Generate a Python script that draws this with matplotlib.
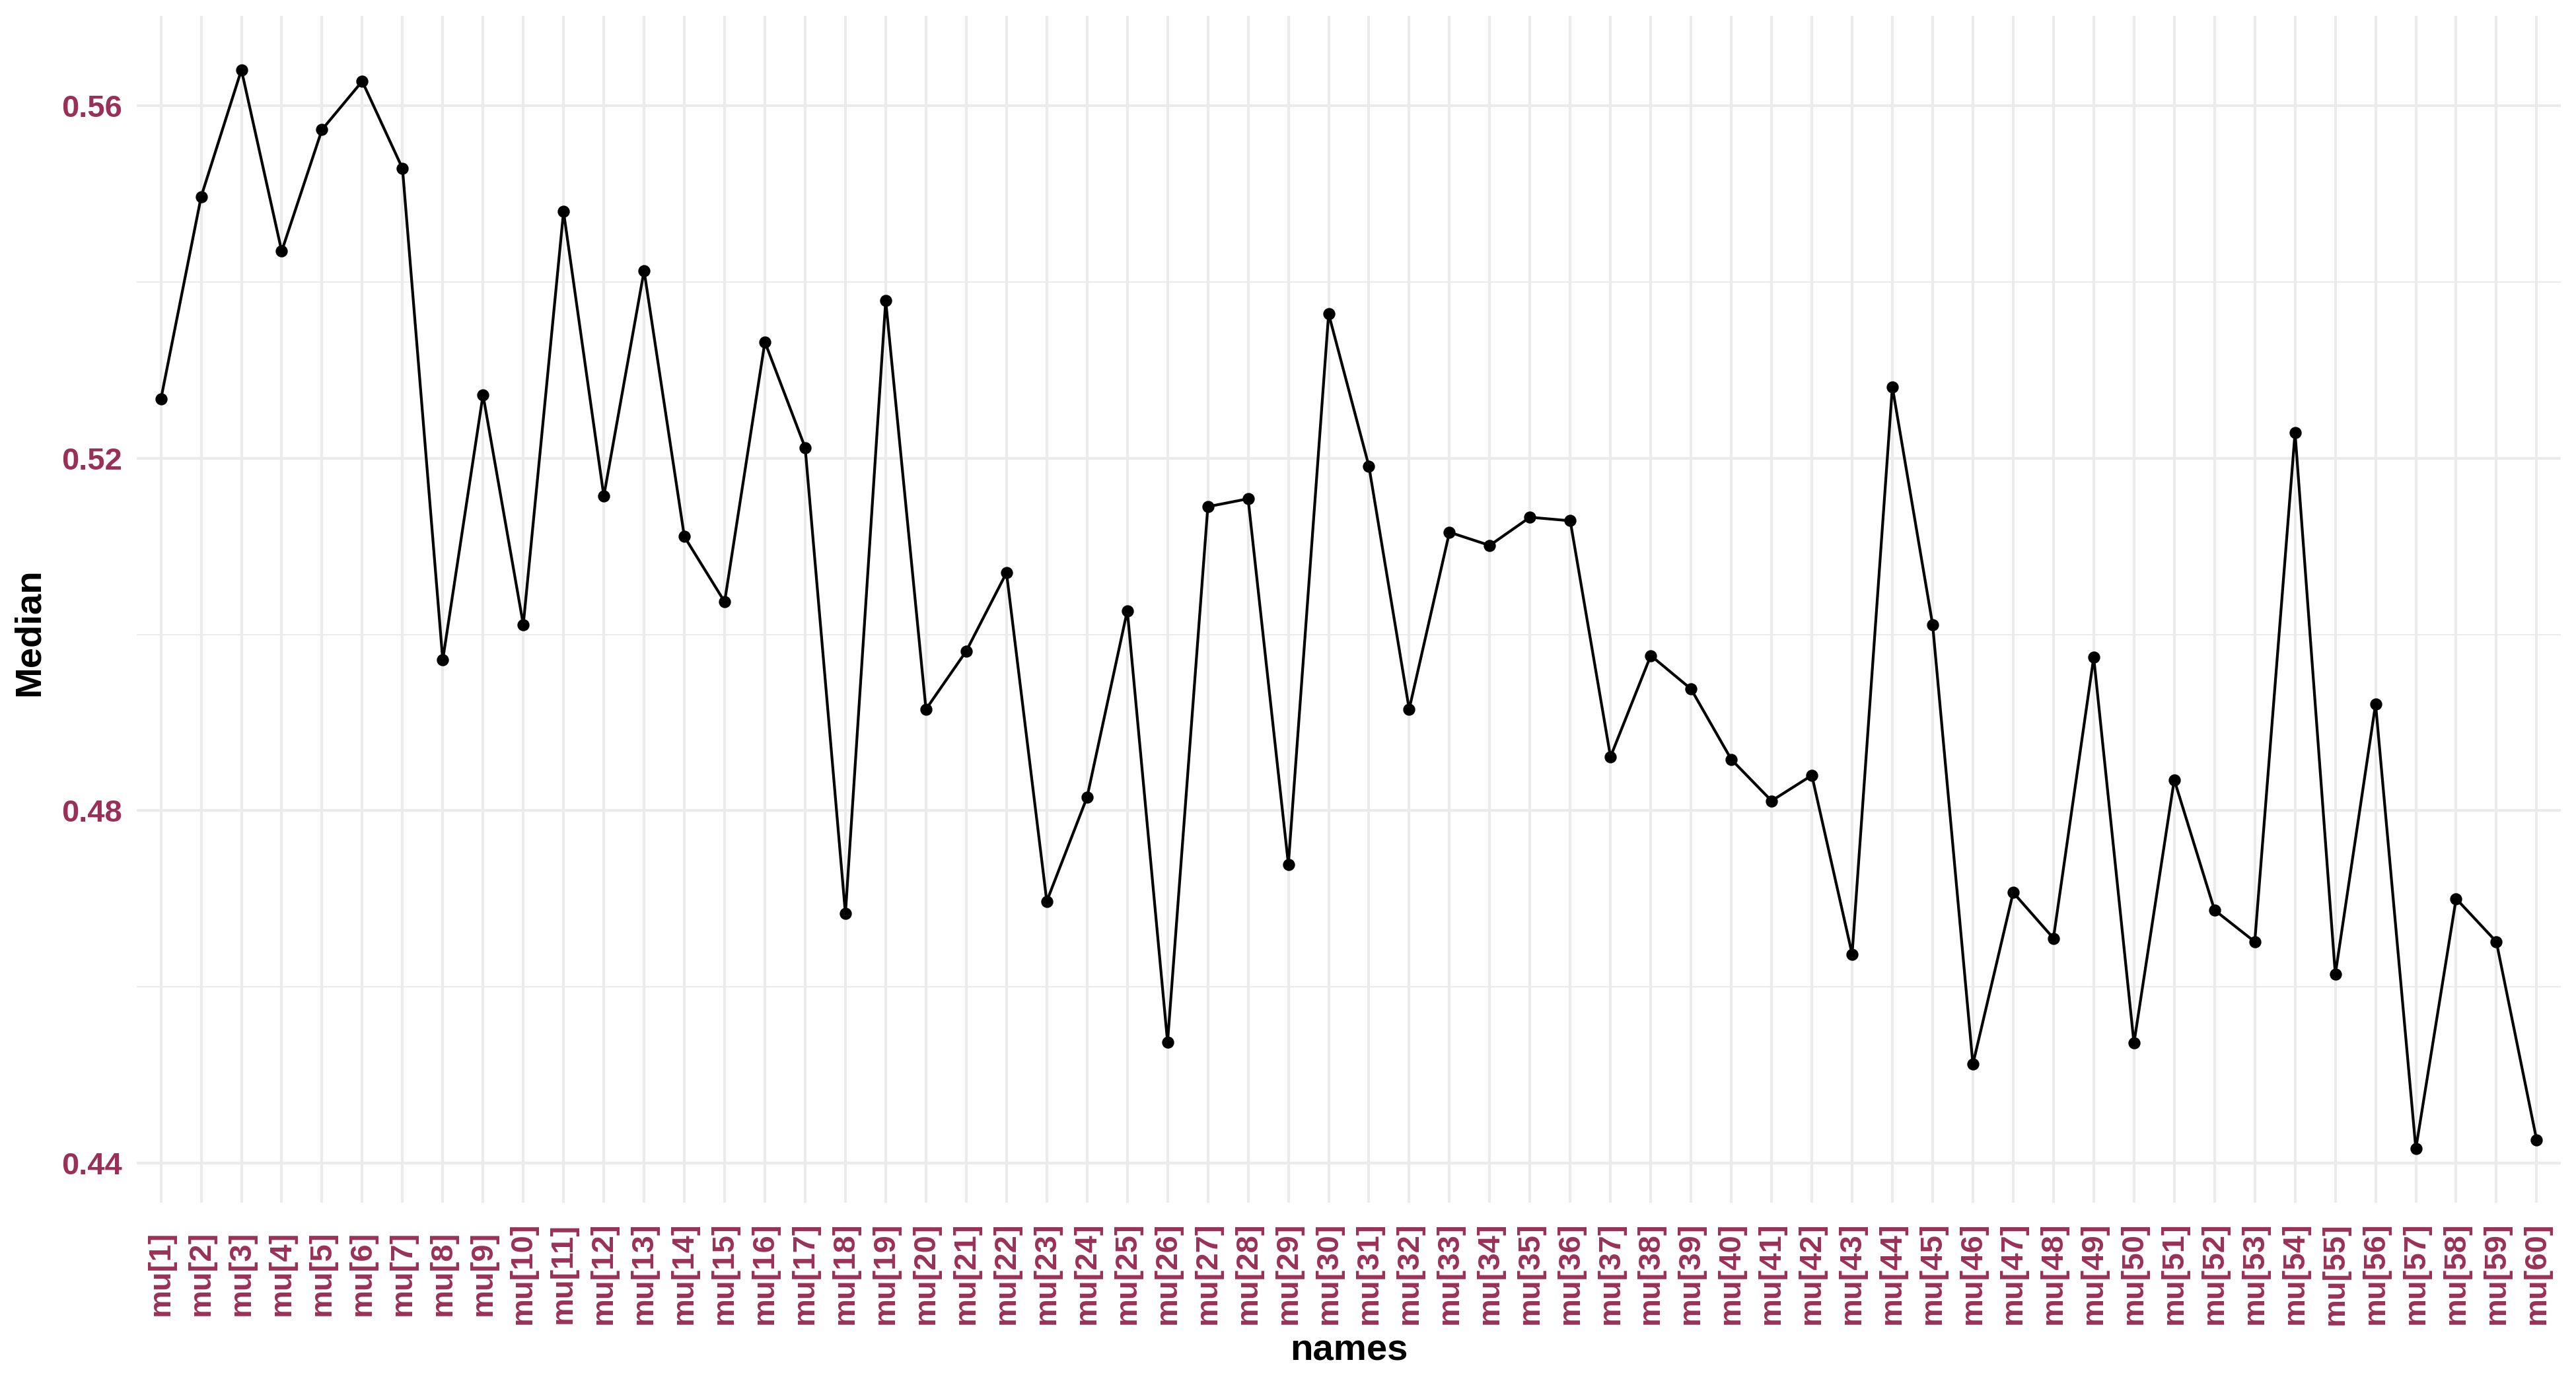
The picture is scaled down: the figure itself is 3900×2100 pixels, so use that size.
import numpy as np
import matplotlib
matplotlib.use("Agg")
import matplotlib.pyplot as plt
from matplotlib.ticker import MultipleLocator

plt.rcParams['font.family'] = ['Liberation Sans', 'DejaVu Sans']

# medians
names = ['mu[%d]' % i for i in range(1, 61)]
median = [
    0.5267, 0.5497, 0.5641, 0.5435, 0.5573, 0.5628, 0.5529, 0.4971, 0.5272, 0.5011,
    0.5480, 0.5157, 0.5413, 0.5111, 0.5037, 0.5332, 0.5212, 0.4683, 0.5379, 0.4915,
    0.4981, 0.5070, 0.4697, 0.4815, 0.5027, 0.4537, 0.5145, 0.5154, 0.4739, 0.5364,
    0.5191, 0.4915, 0.5116, 0.5101, 0.5133, 0.5129, 0.4861, 0.4976, 0.4938, 0.4858,
    0.4811, 0.4840, 0.4637, 0.5281, 0.5011, 0.4512, 0.4707, 0.4655, 0.4974, 0.4536,
    0.4835, 0.4687, 0.4651, 0.5229, 0.4614, 0.4921, 0.4416, 0.4700, 0.4651, 0.4426,
]
yticks = [0.44, 0.48, 0.52, 0.56]

tick_col = '#9A3057'
grid_col = '#EBEBEB'

W, H = 3900, 2100
fig = plt.figure(figsize=(13, 7), dpi=300)
ax = fig.add_axes([207 / W, 1 - 1821 / H, (3877 - 207) / W, (1821 - 24) / H])

x = np.arange(1, len(names) + 1)
ax.plot(x, median, color='black', lw=1.0, zorder=3)
ax.plot(x, median, 'o', color='black', ms=3.4, zorder=4)

# ggplot-like expansion
ax.set_xlim(0.4, len(names) + 0.6)
lo, hi = min(median), max(median)
pad = (hi - lo) * 0.05
ax.set_ylim(lo - pad, hi + pad)

ax.set_xticks(x)
ax.set_xticklabels(names, rotation=90, fontsize=11.3, fontweight='bold', color=tick_col)
for lab in ax.get_xticklabels():
    lab.set_va('center')
ax.set_yticks(yticks)
ax.set_yticklabels(['%.2f' % v for v in yticks], fontsize=11.3, fontweight='bold', color=tick_col)
ax.yaxis.set_minor_locator(MultipleLocator(0.02))

ax.tick_params(axis='x', length=0, pad=25.7)
ax.tick_params(axis='y', length=0, pad=5.3)
ax.tick_params(axis='y', which='minor', length=0)

ax.grid(True, which='major', color=grid_col, lw=1.0)
ax.grid(True, which='minor', axis='y', color=grid_col, lw=0.5)
ax.set_axisbelow(True)
for s in ax.spines.values():
    s.set_visible(False)

fig.text(2042 / W, 1 - 2045 / H, 'names', ha='center', va='center',
         fontsize=13.5, fontweight='bold')
fig.text(45 / W, 1 - 957 / H, 'Median', ha='center', va='center', rotation=90,
         fontsize=13.5, fontweight='bold')

fig.savefig('out.png', dpi=300, facecolor='white')
